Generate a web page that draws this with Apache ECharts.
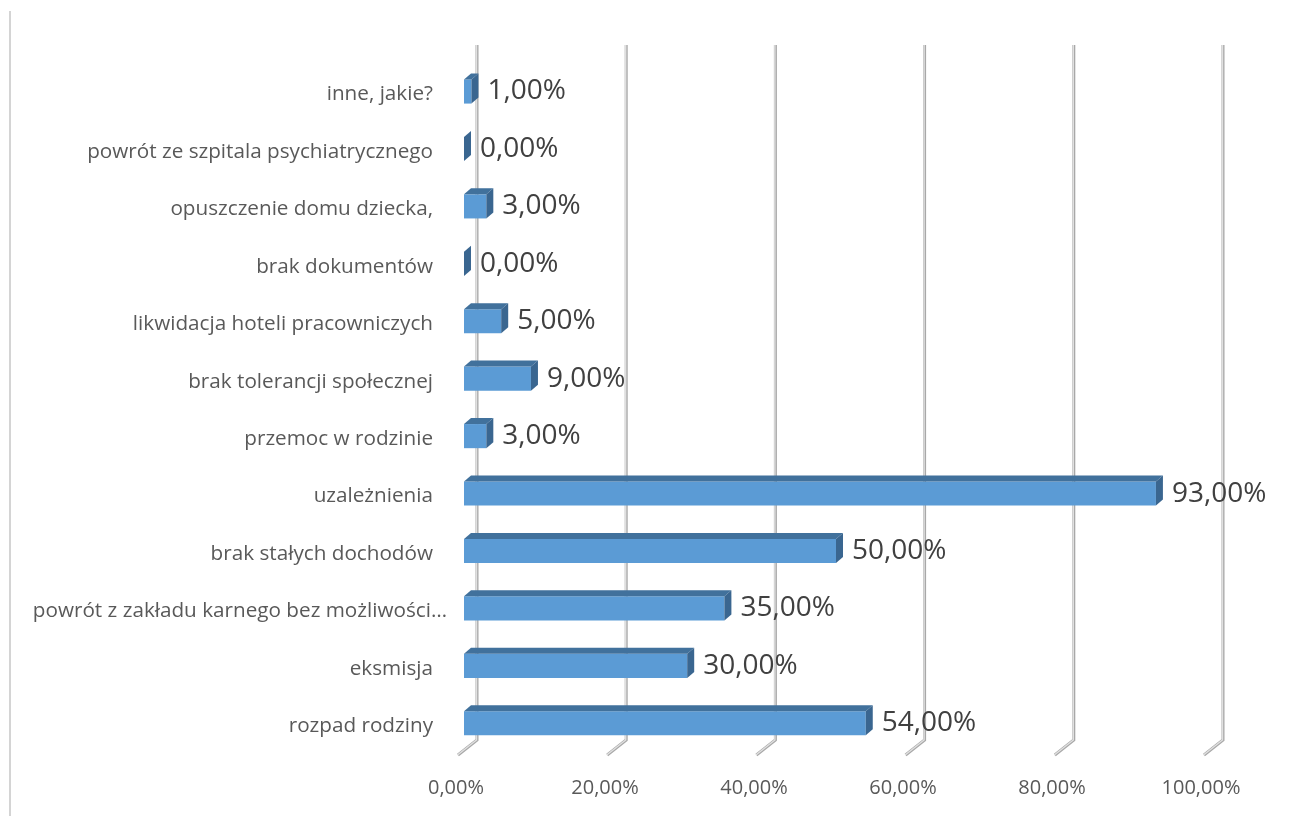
<!DOCTYPE html>
<html>
<head>
<meta charset="utf-8">
<script src="https://cdn.jsdelivr.net/npm/echarts@6/dist/echarts.min.js"></script>
<style>
html,body{margin:0;padding:0;background:#fff;}
#chart{width:1293px;height:816px;}
</style>
</head>
<body>
<div id="chart"></div>
<script>
// Data (bottom to top)
const categories = [
  'rozpad rodziny',
  'eksmisja',
  'powrót z zakładu karnego bez możliwości…',
  'brak stałych dochodów',
  'uzależnienia',
  'przemoc w rodzinie',
  'brak tolerancji społecznej',
  'likwidacja hoteli pracowniczych',
  'brak dokumentów',
  'opuszczenie domu dziecka,',
  'powrót ze szpitala psychiatrycznego',
  'inne, jakie?'
];
const values = [54, 30, 35, 50, 93, 3, 9, 5, 0, 3, 0, 1];
const xTicks = [0, 20, 40, 60, 80, 100];

const fmt = v => v.toFixed(2).replace('.', ',') + '%';

const chart = echarts.init(document.getElementById('chart'));
const DX = 7, DY = 6;

const option = {
  animation: false,
  backgroundColor: '#ffffff',
  graphic: [{
    type: 'line', z: 0,
    shape: {x1: 10, y1: 11, x2: 10, y2: 816},
    style: {stroke: '#d4d4d4', lineWidth: 2}
  }],
  grid: [
    {left: 464, right: 85, top: 62.8, bottom: 64},
    {left: 477, right: 70, top: 45, bottom: 76},
    {left: 456, right: 92, top: 45, bottom: 40}
  ],
  xAxis: [
    {gridIndex: 0, type: 'value', min: 0, max: 100, show: false},
    {gridIndex: 1, type: 'value', min: 0, max: 100, interval: 20, show: false},
    {gridIndex: 2, type: 'value', min: 0, max: 100, interval: 20,
     axisLine: {show: false}, axisTick: {show: false}, splitLine: {show: false},
     axisLabel: {formatter: v => fmt(v), color: '#595959', fontSize: 20,
                 fontFamily: 'Open Sans', margin: 2}}
  ],
  yAxis: [
    {gridIndex: 0, type: 'category', data: categories,
     axisLine: {show: false}, axisTick: {show: false}, splitLine: {show: false},
     axisLabel: {color: '#595959', fontSize: 20.7, fontFamily: 'Open Sans',
                 margin: 31, padding: [6, 0, 0, 0],
                 formatter: v => v.endsWith('…') ? '{l|' + v + '}' : v,
                 rich: {l: {color: '#595959', fontSize: 20.7, fontFamily: 'Open Sans',
                            padding: [0, -14, 0, 0]}}}},
    {gridIndex: 1, type: 'value', min: 0, max: 1, show: false},
    {gridIndex: 2, type: 'value', min: 0, max: 1, show: false}
  ],
  series: [
    {
      type: 'custom', xAxisIndex: 1, yAxisIndex: 1, z: 1,
      data: xTicks.map(v => [v]),
      renderItem: function (params, api) {
        const v = api.value(0);
        const top = api.coord([v, 1]);
        const bot = api.coord([v, 0]);
        const pts = [[top[0], top[1]], [bot[0], bot[1]], [bot[0] - 19, bot[1] + 15]];
        return {
          type: 'group',
          children: [
            {type: 'polyline', shape: {points: pts},
             style: {stroke: '#a8a8a8', lineWidth: 3, fill: null}},
            {type: 'polyline', shape: {points: pts.map(p => [p[0] - 0.5, p[1]])},
             style: {stroke: '#e0e0e0', lineWidth: 1.4, fill: null}}
          ]
        };
      }
    },
    {
      type: 'custom', xAxisIndex: 0, yAxisIndex: 0, z: 3,
      data: values.map((v, i) => [v, i]),
      renderItem: function (params, api) {
        const v = api.value(0);
        const idx = api.value(1);
        const s = api.coord([0, idx]);
        const e = api.coord([v, idx]);
        const h = api.size([0, 1])[1] * 0.42;
        const x0 = s[0], x1 = e[0];
        const y0 = s[1] - h / 2, y1 = s[1] + h / 2;
        const children = [];
        if (x1 - x0 > 0.5) {
          children.push({type: 'rect', shape: {x: x0, y: y0, width: x1 - x0, height: h},
                         style: {fill: '#5b9bd5'}});
          children.push({type: 'polygon',
                         shape: {points: [[x0, y0], [x0 + DX, y0 - DY], [x1 + DX, y0 - DY], [x1, y0]]},
                         style: {fill: '#41719c'}});
        }
        children.push({type: 'polygon',
                       shape: {points: [[x1, y0], [x1 + DX, y0 - DY], [x1 + DX, y1 - DY], [x1, y1]]},
                       style: {fill: '#3a6690'}});
        children.push({type: 'text',
                       style: {text: fmt(v), x: x1 + DX + 9, y: s[1],
                               verticalAlign: 'middle', align: 'left',
                               fill: '#404040', fontSize: 28, fontFamily: 'Open Sans'}});
        return {type: 'group', children: children};
      }
    }
  ]
};
chart.setOption(option);
</script>
</body>
</html>
